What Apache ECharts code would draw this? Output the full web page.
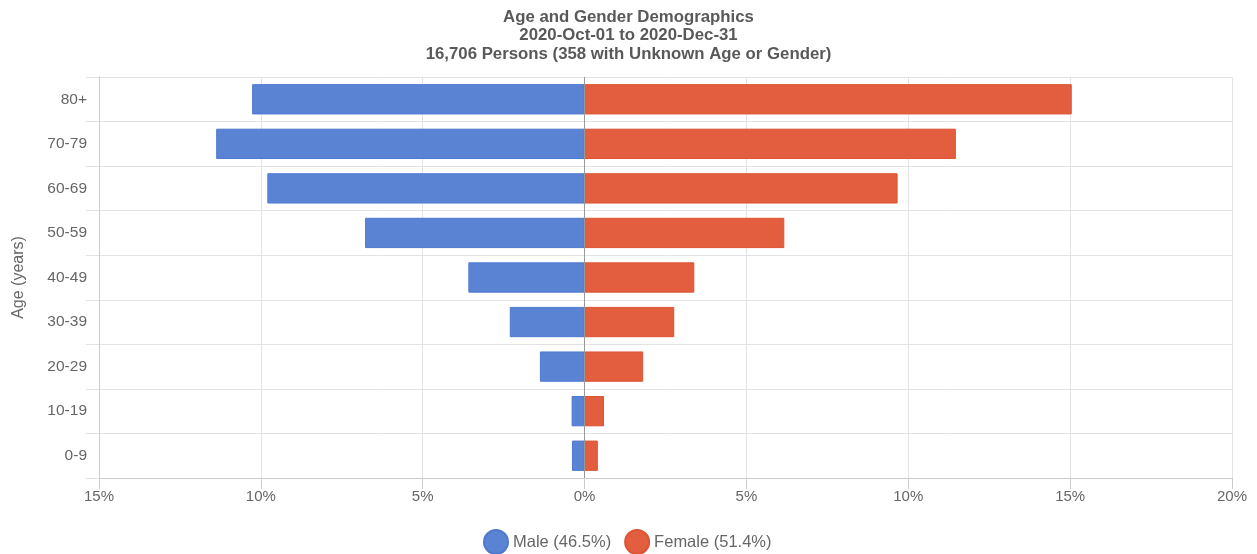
<!DOCTYPE html>
<html>
<head>
<meta charset="utf-8">
<script src="https://cdn.jsdelivr.net/npm/echarts@6/dist/echarts.min.js"></script>
<style>
  html, body { margin: 0; padding: 0; background: #fff; }
  #chart { width: 1257px; height: 554px; }
</style>
</head>
<body>
<div id="chart"></div>
<script>
// Age bands, bottom to top
const ageBands = ['0-9', '10-19', '20-29', '30-39', '40-49', '50-59', '60-69', '70-79', '80+'];
// Share of all persons (%) per age band
const malePct   = [0.39, 0.40, 1.38, 2.31, 3.59, 6.78, 9.80, 11.38, 10.27];
const femalePct = [0.41, 0.60, 1.81, 2.77, 3.39, 6.17, 9.67, 11.47, 15.05];
const seriesNames = ['Male (46.5%)', 'Female (51.4%)'];
const titleLines = [
  'Age and Gender Demographics',
  '2020-Oct-01 to 2020-Dec-31',
  '16,706 Persons (358 with Unknown Age or Gender)'
];

const FONT = '"Liberation Sans", Arial, sans-serif';
const chart = echarts.init(document.getElementById('chart'), null, { renderer: 'canvas' });

chart.setOption({
  backgroundColor: '#fff',
  animation: false,
  title: {
    text: titleLines.join('\n'),
    left: 'center',
    top: 3,
    textStyle: { fontFamily: FONT, fontSize: 16.8, fontWeight: 'bold', color: '#595959', lineHeight: 18.5 }
  },
  legend: {
    top: 524,
    left: 478,
    icon: 'circle',
    itemWidth: 24,
    itemHeight: 24,
    itemGap: 13,
    textStyle: { fontFamily: FONT, fontSize: 16.5, color: '#666' },
    data: seriesNames
  },
  grid: { left: 99, right: 25, top: 77, bottom: 76, containLabel: false },
  xAxis: {
    type: 'value',
    min: -15,
    max: 20,
    interval: 5,
    axisLine: { show: true, lineStyle: { color: '#ccc' } },
    axisTick: { show: true, length: 11, lineStyle: { color: '#ccc' } },
    axisLabel: {
      margin: 11,
      fontFamily: FONT, fontSize: 15, color: '#666',
      formatter: v => Math.abs(v) + '%'
    },
    splitLine: { show: true, lineStyle: { color: '#e3e3e3' } }
  },
  yAxis: {
    type: 'category',
    data: ageBands,
    name: 'Age (years)',
    nameLocation: 'middle',
    nameGap: 72,
    nameTextStyle: { fontFamily: FONT, fontSize: 16, color: '#666' },
    axisLine: { show: true, onZero: false, lineStyle: { color: '#ccc' } },
    axisTick: { show: true, length: 13, lineStyle: { color: '#e3e3e3' } },
    axisLabel: { margin: 12, fontFamily: FONT, fontSize: 15.5, color: '#666' },
    splitLine: { show: true, lineStyle: { color: '#e3e3e3' } }
  },
  series: [
    {
      name: seriesNames[0],
      type: 'bar',
      stack: 'pyramid',
      barWidth: '68%',
      data: malePct.map(v => -v),
      itemStyle: { color: '#5a83d4', borderColor: '#4f79cf', borderWidth: 1 },
      markLine: {
        silent: true,
        symbol: 'none',
        label: { show: false },
        lineStyle: { color: '#999', type: 'solid', width: 1 },
        data: [{ xAxis: 0 }]
      }
    },
    {
      name: seriesNames[1],
      type: 'bar',
      stack: 'pyramid',
      barWidth: '68%',
      data: femalePct,
      itemStyle: { color: '#e25e3e', borderColor: '#dc5434', borderWidth: 1 }
    }
  ]
});
</script>
</body>
</html>
